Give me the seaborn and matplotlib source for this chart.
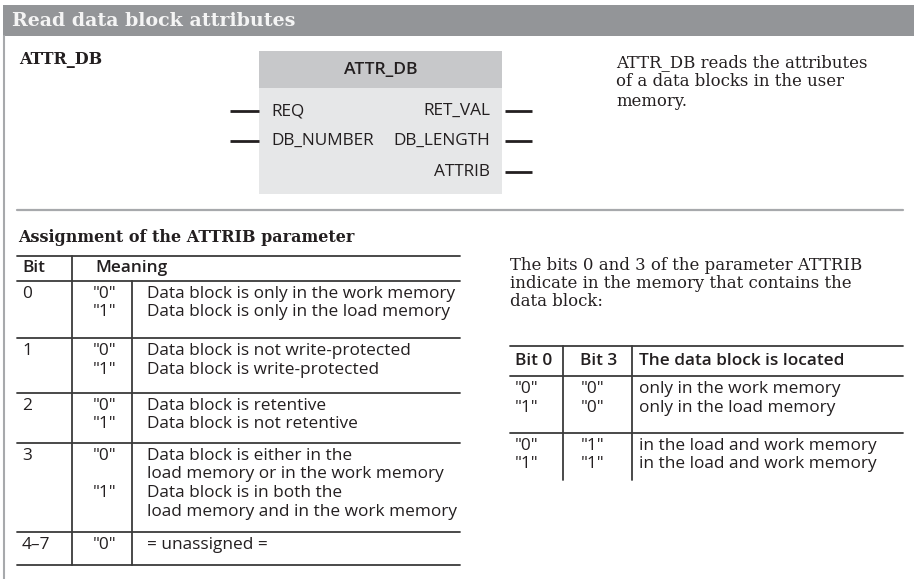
import matplotlib
matplotlib.use("Agg")
import matplotlib.pyplot as plt
from matplotlib.patches import Rectangle
import seaborn as sns

# ---------------- data ----------------
title = "Read data block attributes"
block_name = "ATTR_DB"
block_inputs = ["REQ", "DB_NUMBER"]
block_outputs = ["RET_VAL", "DB_LENGTH", "ATTRIB"]
description = ["ATTR_DB reads the attributes", "of a data blocks in the user", "memory."]

table1_title = "Assignment of the ATTRIB parameter"
table1_header = ["Bit", "Meaning"]
attrib_bits = ["0", "1", "2", "3", "4\u20137"]
attrib_values = [['"0"', '"1"'], ['"0"', '"1"'], ['"0"', '"1"'],
                 ['"0"', '', '"1"', ''], ['"0"']]
attrib_meanings = [
    ["Data block is only in the work memory", "Data block is only in the load memory"],
    ["Data block is not write-protected", "Data block is write-protected"],
    ["Data block is retentive", "Data block is not retentive"],
    ["Data block is either in the", "load memory or in the work memory",
     "Data block is in both the", "load memory and in the work memory"],
    ["= unassigned ="],
]

intro2 = ["The bits 0 and 3 of the parameter ATTRIB",
          "indicate in the memory that contains the", "data block:"]
table2_header = ["Bit 0", "Bit 3", "The data block is located"]
t2_bit0 = [['"0"', '"1"'], ['"0"', '"1"']]
t2_bit3 = [['"0"', '"0"'], ['"1"', '"1"']]
t2_location = [["only in the work memory", "only in the load memory"],
               ["in the load and work memory", "in the load and work memory"]]

# ---------------- style ----------------
sns.set_theme(style="white")
SERIF = ["DejaVu Serif"]
SANS = ["Open Sans", "DejaVu Sans"]
TXT = "#231f20"
LINE = "#3a3a3a"
PX = 72 / 100.0  # pt per px at dpi 100
SERIF_PX = 16.5
SANS_PX = 17.3


def fs(px):
    return px * PX


fig = plt.figure(figsize=(9.14, 5.79), dpi=100)
ax = fig.add_axes([0, 0, 1, 1])
ax.set_xlim(0, 914)
ax.set_ylim(579, 0)
ax.axis("off")

# header bar + left border
ax.add_patch(Rectangle((3, 5), 911, 31, facecolor="#939598", edgecolor="none"))
ax.plot([3.5, 3.5], [36, 579], color="#a7a9ac", lw=1.5)
ax.text(12, 21, title, family=SERIF, fontweight="bold", fontsize=fs(19),
        color="#f4f4f4", va="center", ha="left")

# block section
ax.text(19, 60, block_name, family=SERIF, fontweight="bold", fontsize=fs(16),
        color=TXT, va="center", ha="left")
bx0, bx1, by0, byh, by1 = 259, 502, 51, 88, 194
ax.add_patch(Rectangle((bx0, byh), bx1 - bx0, by1 - byh, facecolor="#e6e7e8", edgecolor="none"))
ax.add_patch(Rectangle((bx0, by0), bx1 - bx0, byh - by0, facecolor="#c7c8ca", edgecolor="none"))
ax.text((bx0 + bx1) / 2, 70, block_name, family=SANS, fontweight="semibold",
        fontsize=fs(17.5), color=TXT, va="center", ha="center")
pin_y = [111, 141, 172]
for i, name in enumerate(block_inputs):
    y = pin_y[i]
    ax.plot([230, 259], [y, y], color="#231f20", lw=2.0, solid_capstyle="butt")
    ax.text(271, y, name, family=SANS, fontsize=fs(SANS_PX), color=TXT,
            va="center", ha="left")
for i, name in enumerate(block_outputs):
    y = pin_y[i]
    ax.plot([505, 532], [y, y], color="#231f20", lw=2.0, solid_capstyle="butt")
    ax.text(490, y, name, family=SANS, fontsize=fs(SANS_PX), color=TXT,
            va="center", ha="right")
for i, line in enumerate(description):
    ax.text(616, 63 + i * 19, line, family=SERIF, fontsize=fs(SERIF_PX), color=TXT,
            va="center", ha="left")

# separator
ax.plot([17, 903], [210, 210], color="#a7a9ac", lw=1.6)

# ---------------- table 1 ----------------
ax.text(18, 238, table1_title, family=SERIF, fontweight="bold", fontsize=fs(16),
        color=TXT, va="center", ha="left")
t1x0, t1x1, c1, c2 = 17, 460, 72, 132
rules1 = [256, 281, 338, 393, 443, 532, 565]
lh = 18.5
for y in rules1:
    ax.plot([t1x0, t1x1], [y, y], color=LINE, lw=1.3)
ax.plot([c1, c1], [rules1[0], rules1[-1]], color=LINE, lw=1.3)
ax.plot([c2, c2], [rules1[1], rules1[-1]], color=LINE, lw=1.3)
ax.text(22, 268, table1_header[0], family=SANS, fontweight="semibold", fontsize=fs(SANS_PX),
        color=TXT, va="center", ha="left")
ax.text(95, 268, table1_header[1], family=SANS, fontweight="semibold", fontsize=fs(SANS_PX),
        color=TXT, va="center", ha="left")
for r, bit in enumerate(attrib_bits):
    ytop = rules1[r + 1] + 13
    ax.text(22, ytop, bit, family=SANS, fontsize=fs(SANS_PX), color=TXT, va="center", ha="left")
    for k, v in enumerate(attrib_values[r]):
        if v:
            ax.text(104, ytop + k * lh, v, family=SANS, fontsize=fs(SANS_PX), color=TXT,
                    va="center", ha="center")
    for k, m in enumerate(attrib_meanings[r]):
        ax.text(147, ytop + k * lh, m, family=SANS, fontsize=fs(SANS_PX), color=TXT,
                va="center", ha="left")

# ---------------- table 2 ----------------
for i, line in enumerate(intro2):
    ax.text(510, 266 + i * 18, line, family=SERIF, fontsize=fs(SERIF_PX), color=TXT,
            va="center", ha="left")
t2x0, t2x1, d1, d2 = 510, 903, 563, 632
rules2 = [346, 376, 433, 480]
for y in rules2[:-1]:
    ax.plot([t2x0, t2x1], [y, y], color=LINE, lw=1.3)
ax.plot([d1, d1], [rules2[0], rules2[-1]], color=LINE, lw=1.3)
ax.plot([d2, d2], [rules2[0], rules2[-1]], color=LINE, lw=1.3)
hx = [515, 580, 639]
for x, h in zip(hx, table2_header):
    ax.text(x, 361, h, family=SANS, fontweight="semibold", fontsize=fs(SANS_PX), color=TXT,
            va="center", ha="left")
for r in range(len(t2_location)):
    ytop = rules2[r + 1] + 13
    for k in range(2):
        y = ytop + k * lh
        ax.text(515, y, t2_bit0[r][k], family=SANS, fontsize=fs(SANS_PX), color=TXT, va="center", ha="left")
        ax.text(581, y, t2_bit3[r][k], family=SANS, fontsize=fs(SANS_PX), color=TXT, va="center", ha="left")
        ax.text(639, y, t2_location[r][k], family=SANS, fontsize=fs(SANS_PX), color=TXT, va="center", ha="left")

fig.savefig("out.png", dpi=100)
